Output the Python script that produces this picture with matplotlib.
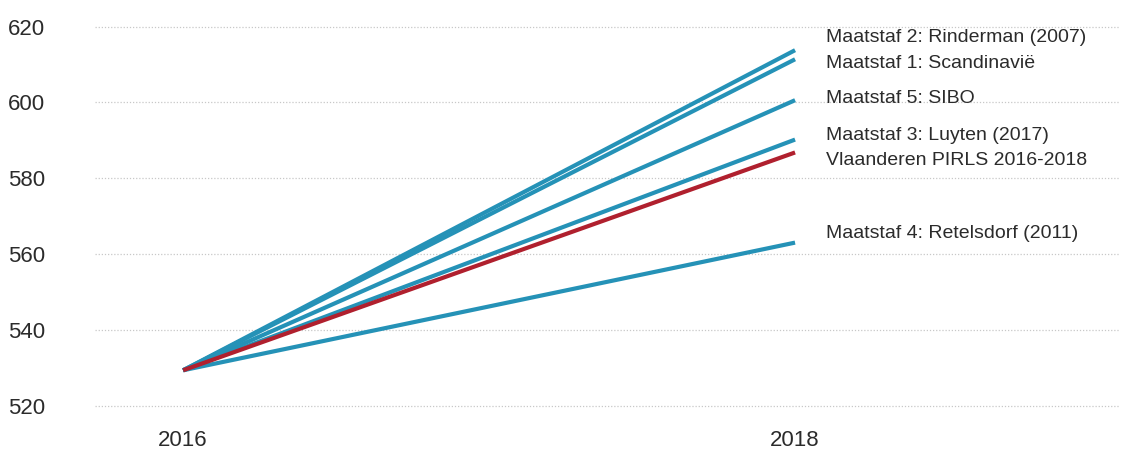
import matplotlib
matplotlib.use("Agg")
import matplotlib.pyplot as plt
from matplotlib.ticker import FixedLocator

plt.rcParams['font.family'] = ['Liberation Sans', 'DejaVu Sans']

years = [2016, 2018]
series_names = [
    "Maatstaf 2: Rinderman (2007)",
    "Maatstaf 1: Scandinavië",
    "Maatstaf 5: SIBO",
    "Maatstaf 3: Luyten (2017)",
    "Maatstaf 4: Retelsdorf (2011)",
]
series_start = [529.3, 529.3, 529.3, 529.3, 529.3]
series_end = [613.8, 611.4, 600.6, 590.2, 563.0]

flanders_name = "Vlaanderen PIRLS 2016-2018"
flanders_values = [529.3, 586.8]

yticks = [520, 540, 560, 580, 600, 620]

# vertical placement of the right-hand labels (baseline, in data units)
label_y = {
    "Maatstaf 2: Rinderman (2007)": 616.0,
    "Maatstaf 1: Scandinavië": 609.0,
    "Maatstaf 5: SIBO": 599.9,
    "Maatstaf 3: Luyten (2017)": 590.2,
    "Vlaanderen PIRLS 2016-2018": 583.5,
    "Maatstaf 4: Retelsdorf (2011)": 564.1,
}

BLUE = "#2592b7"
RED = "#b0202e"
TEXT = "#2b2b2b"

fig = plt.figure(figsize=(11.22, 4.53), dpi=100)
ax = fig.add_axes([95 / 1122, (453 - 405.5) / 453, (1120 - 95) / 1122, (405.5 - 26.7) / 453])

for name, s, e in zip(series_names, series_start, series_end):
    ax.plot(years, [s, e], color=BLUE, lw=3.0, solid_capstyle='butt', zorder=3)
ax.plot(years, flanders_values, color=RED, lw=3.0, solid_capstyle='butt', zorder=4)

label_x = years[1] + 0.1
for name, y in label_y.items():
    ax.text(label_x, y, name, fontsize=14, color=TEXT, ha='left', va='baseline')

ax.set_xlim(2015.712, 2019.062)
ax.set_ylim(520, 620)
ax.yaxis.set_major_locator(FixedLocator(yticks))
ax.xaxis.set_major_locator(FixedLocator(years))
ax.set_xticklabels([str(y) for y in years])

ax.grid(axis='y', color='#c8c8c8', lw=0.9, linestyle=(0, (1, 1.5)))
for gl in ax.yaxis.get_gridlines():
    gl.set_clip_on(False)
ax.set_axisbelow(True)
for sp in ax.spines.values():
    sp.set_visible(False)
ax.tick_params(axis='both', length=0, labelsize=16, colors=TEXT)
ax.tick_params(axis='y', pad=36)
ax.tick_params(axis='x', pad=18)

fig.savefig("out.png", dpi=100)
